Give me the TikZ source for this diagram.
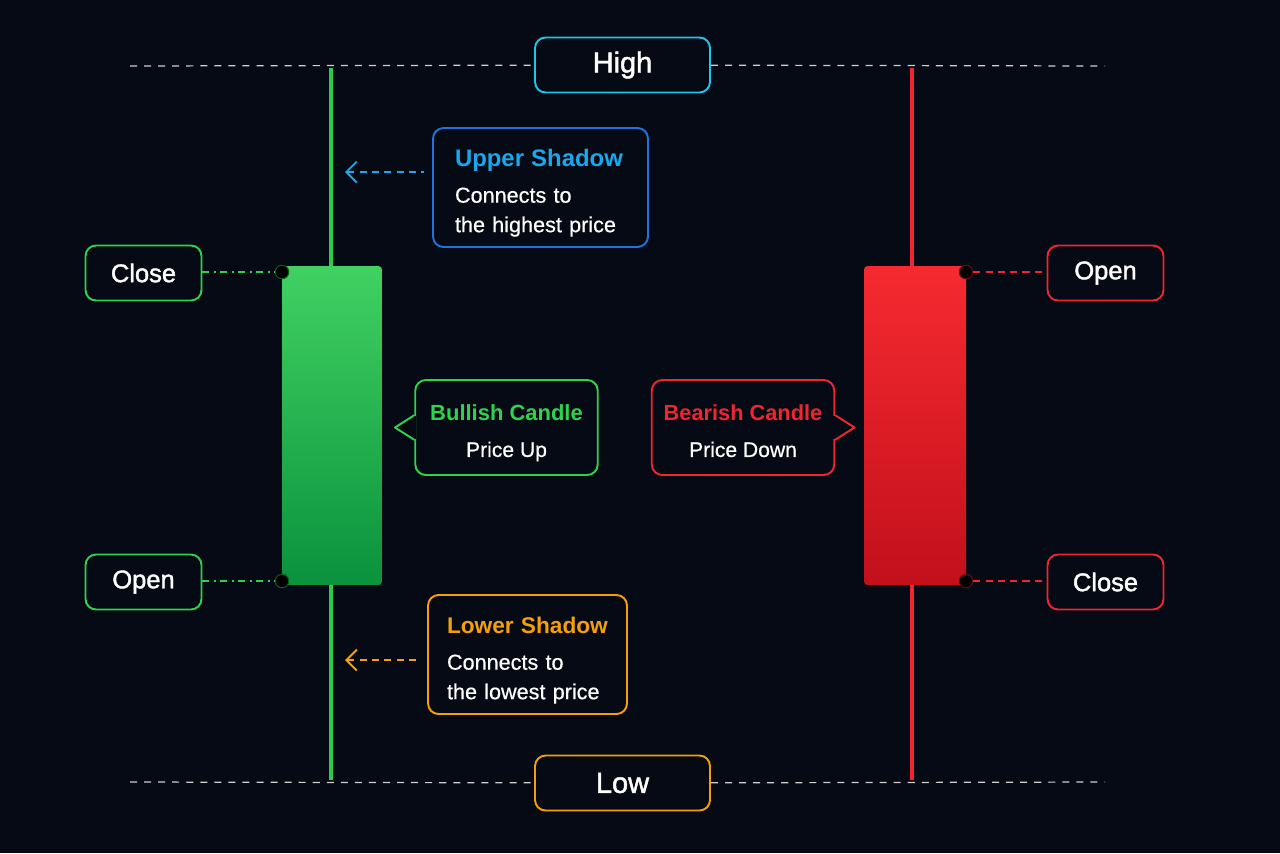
\documentclass[tikz,border=0pt]{standalone}
\usepackage{fontspec}
\setmainfont{Liberation Sans}[FakeBold=0.6]
\newfontfamily\medfont{Liberation Sans}[FakeBold=1.6]
\newfontfamily\headfont{Liberation Sans Bold}
\usetikzlibrary{arrows.meta,shadings}

\definecolor{bgnavy}{HTML}{050A14}
\definecolor{bullgreen}{HTML}{2FD24E}
\definecolor{bullwick}{HTML}{2CCB4B}
\definecolor{bulltop}{HTML}{41D162}
\definecolor{bullbot}{HTML}{0A923D}
\definecolor{beared}{HTML}{EF2530}
\definecolor{beartop}{HTML}{F62A30}
\definecolor{bearbot}{HTML}{C2101C}
\definecolor{upblue}{HTML}{1E74DC}
\definecolor{uptitle}{HTML}{17A8EE}
\definecolor{highcyan}{HTML}{1EC6EA}
\definecolor{loworange}{HTML}{F5A00B}
\definecolor{guidegray}{HTML}{D0D0D0}

\newcommand{\toppad}{\mbox{}\\[-1pt]}

\tikzset{
  lbl/.style={draw, line width=1.1pt, rounded corners=6pt, fill=bgnavy, text=white, inner sep=0pt, align=center},
  pricebox/.style={lbl, minimum width=2.32cm, minimum height=1.1cm, font=\medfont\fontsize{14.5}{16}\selectfont},
  levelbox/.style={lbl, minimum width=3.5cm, minimum height=1.1cm, font=\medfont\fontsize{16.5}{18}\selectfont},
  notebox/.style={lbl, align=left, minimum height=2.38cm, font=\fontsize{12.3}{16.8}\selectfont},
  candlebox/.style={lbl, minimum width=3.65cm, minimum height=1.9cm, font=\fontsize{12}{16.5}\selectfont},
  guide/.style={guidegray, line width=0.7pt, dash pattern=on 4pt off 4pt},
  dot/.style={circle, fill=black, draw=#1!40!black, line width=0.6pt, minimum size=0.27cm, inner sep=0pt},
  bulllink/.style={bullgreen, line width=1.1pt, dash pattern=on 4pt off 2.5pt on 1.2pt off 2.5pt},
  bearlink/.style={beared, line width=1.1pt, dash pattern=on 4pt off 3pt},
  notelink/.style={line width=1.1pt, dash pattern=on 4pt off 3pt, shorten >=4.5pt,
    arrows={Straight Barb[length=6pt,width=12pt,line width=1.1pt]-}},
  wick/.style={line width=2.8pt}
}

\begin{document}
\begin{tikzpicture}[x=0.02cm,y=-0.02cm]
\fill[bgnavy] (0,0) rectangle (1280,853);

% wicks
\coordinate (bullTop) at (331,68);
\coordinate (bullBot) at (331,780);
\coordinate (bearTop) at (912,68);
\coordinate (bearBot) at (912,780);
\draw[wick, bullwick] (bullTop) -- (bullBot);
\draw[wick, beared] (bearTop) -- (bearBot);

% bodies
\node[rounded corners=2pt, minimum width=2cm, minimum height=6.38cm, top color=bulltop, bottom color=bullbot, inner sep=0pt] (bullBody) at (332,425.5) {};
\node[rounded corners=2pt, minimum width=2.04cm, minimum height=6.38cm, top color=beartop, bottom color=bearbot, inner sep=0pt] (bearBody) at (915,425.5) {};

% high / low
\coordinate (hiL) at (130,66);
\coordinate (hiR) at (1105,66);
\coordinate (loL) at (130,782);
\coordinate (loR) at (1105,782);
\node[levelbox, draw=highcyan] (high) at (622.5,65) {High};
\node[levelbox, draw=loworange] (low) at (622.5,783) {Low};
\draw[guide] (hiL) -- (high);
\draw[guide] (high) -- (hiR);
\draw[guide] (loL) -- (low);
\draw[guide] (low) -- (loR);

% open / close
\node[pricebox, draw=bullgreen] (closeL) at (143.5,273) {Close};
\node[pricebox, draw=bullgreen] (openL) at (143.5,582) {Open};
\node[pricebox, draw=beared] (openR) at (1105.5,273) {Open};
\node[pricebox, draw=beared] (closeR) at (1105.5,582) {Close};
\node[dot=bullgreen] (dotCL) at (282,272) {};
\node[dot=bullgreen] (dotOL) at (282,581) {};
\node[dot=beared] (dotOR) at (966,272) {};
\node[dot=beared] (dotCR) at (966,581) {};
\draw[bulllink] (closeL.east |- dotCL) -- (dotCL);
\draw[bulllink] (openL.east |- dotOL) -- (dotOL);
\draw[bearlink] (dotOR) -- (openR.west |- dotOR);
\draw[bearlink] (dotCR) -- (closeR.west |- dotCR);

% shadows
\node[notebox, draw=upblue, minimum width=4.3cm, text width=3.42cm] (upper) at (540.5,187.5)
  {\toppad{\headfont\fontsize{13.6}{15}\selectfont\color{uptitle}Upper Shadow}\\[4pt]Connects to\\the highest price};
\node[notebox, draw=loworange, minimum width=3.98cm, text width=3.22cm] (lower) at (527.5,654.5)
  {\toppad{\headfont\fontsize{12.9}{15}\selectfont\color{loworange}Lower Shadow}\\[4pt]Connects to\\the lowest price};
\coordinate (upTip) at (345,172);
\coordinate (loTip) at (345,660);
\draw[notelink, uptitle] (upTip) -- (upTip -| upper.west);
\draw[notelink, loworange] (loTip) -- (loTip -| lower.west);

% candle notes
\node[candlebox, draw=bullgreen] (bull) at (506.5,427.5)
  {\toppad{\headfont\fontsize{12.5}{15}\selectfont\color{bullgreen}Bullish Candle}\\[4pt]Price Up};
\node[candlebox, draw=beared] (bear) at (743,427.5)
  {\toppad{\headfont\fontsize{12.4}{15}\selectfont\color{beared}Bearish Candle}\\[4pt]Price Down\vphantom{p}};
\fill[bgnavy] ([xshift=-1pt,yshift=6.6pt]bull.west) rectangle ([xshift=1pt,yshift=-6.6pt]bull.west);
\draw[bullgreen, line width=1.1pt, line join=round] ([yshift=7pt]bull.west) -- ++(-11pt,-7pt) -- ([yshift=-7pt]bull.west);
\fill[bgnavy] ([xshift=-1pt,yshift=6.6pt]bear.east) rectangle ([xshift=1pt,yshift=-6.6pt]bear.east);
\draw[beared, line width=1.1pt, line join=round] ([yshift=7pt]bear.east) -- ++(11pt,-7pt) -- ([yshift=-7pt]bear.east);
\end{tikzpicture}
\end{document}
